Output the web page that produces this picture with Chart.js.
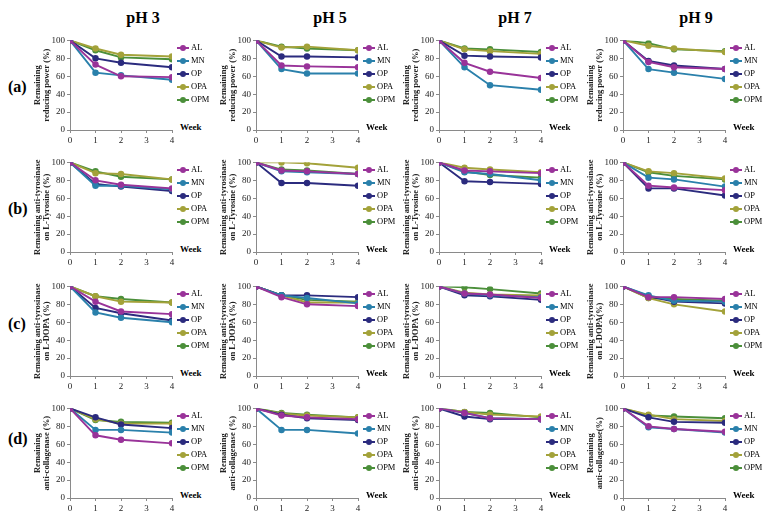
<!DOCTYPE html>
<html>
<head>
<meta charset="utf-8">
<script src="https://cdn.jsdelivr.net/npm/chart.js@4.4.1/dist/chart.umd.min.js"></script>
<style>
  body { margin: 0; background: #fff; font-family: "Liberation Serif", "DejaVu Serif", serif; }
  #page { position: relative; width: 773px; height: 525px; overflow: hidden; }
  .box { position: absolute; }
  .colTitle { position: absolute; font-weight: bold; font-size: 16px; transform: translateX(-50%); }
  .rowLabel { position: absolute; font-weight: bold; font-size: 16px; }
  .week { position: absolute; font-weight: bold; font-size: 9px; }
  .leg { position: absolute; font-size: 8.5px; line-height: 10px; white-space: nowrap; }
  .leg span.mk { display: inline-block; position: relative; width: 12px; height: 2px; vertical-align: middle; margin-right: 2px; }
  .leg span.mk i { position: absolute; left: 3px; top: -2px; width: 6px; height: 6px; border-radius: 50%; background: inherit; }
</style>
</head>
<body>
<div id="page"></div>
<script>
// weeks sampled (no point at week 3)
const weeks = [0, 1, 2, 4];
const seriesNames = ['AL', 'MN', 'OP', 'OPA', 'OPM'];
const seriesColors = ['#993399', '#2a80ab', '#2b2b7e', '#a3a23a', '#4b8f3a'];
const phLabels = ['pH 3', 'pH 5', 'pH 7', 'pH 9'];
const rowLabels = ['(a)', '(b)', '(c)', '(d)'];
const yTicks = [0, 20, 40, 60, 80, 100];

// (a) remaining reducing power, one row per pH 3/5/7/9
const reducing_AL  = [[100, 73, 60, 59], [100, 72, 71, 70], [100, 75, 65, 58], [100, 76, 70, 68]];
const reducing_MN  = [[100, 64, 61, 56], [100, 68, 63, 63], [100, 70, 50, 45], [100, 68, 64, 57]];
const reducing_OP  = [[100, 80, 75, 70], [100, 82, 82, 81], [100, 83, 82, 81], [100, 77, 72, 68]];
const reducing_OPA = [[100, 91, 84, 82], [100, 92, 93, 89], [100, 90, 88, 85], [100, 94, 91, 87]];
const reducing_OPM = [[100, 89, 81, 79], [100, 93, 91, 89], [100, 91, 90, 87], [100, 97, 90, 88]];

// (b) anti-tyrosinase on L-Tyrosine
const tyrosine_AL  = [[100, 80, 75, 71], [100, 91, 90, 87], [100, 91, 90, 88], [100, 74, 72, 69]];
const tyrosine_MN  = [[100, 74, 74, 70], [100, 90, 89, 87], [100, 89, 87, 80], [100, 83, 81, 73]];
const tyrosine_OP  = [[100, 76, 73, 68], [100, 77, 77, 74], [100, 79, 78, 76], [100, 71, 71, 63]];
const tyrosine_OPA = [[100, 88, 87, 81], [100, 100, 99, 94], [100, 94, 92, 89], [100, 90, 88, 82]];
const tyrosine_OPM = [[100, 90, 84, 81], [100, 92, 91, 87], [100, 90, 86, 83], [100, 89, 85, 81]];

// (c) anti-tyrosinase on L-DOPA
const dopa_AL  = [[100, 83, 72, 69], [100, 88, 80, 78], [100, 92, 91, 87], [100, 88, 88, 86]];
const dopa_MN  = [[100, 71, 65, 60], [100, 90, 87, 81], [100, 92, 90, 88], [100, 90, 84, 83]];
const dopa_OP  = [[100, 76, 70, 62], [100, 90, 90, 88], [100, 90, 89, 85], [100, 89, 83, 81]];
const dopa_OPA = [[100, 89, 83, 82], [100, 90, 82, 82], [100, 93, 91, 90], [100, 87, 80, 72]];
const dopa_OPM = [[100, 89, 86, 82], [100, 90, 85, 83], [100, 99, 97, 92], [100, 87, 86, 84]];

// (d) anti-collagenase
const collagen_AL  = [[100, 70, 65, 61], [100, 92, 90, 88], [100, 95, 89, 88], [100, 80, 77, 74]];
const collagen_MN  = [[100, 76, 76, 73], [100, 76, 76, 72], [100, 95, 89, 88], [100, 79, 77, 73]];
const collagen_OP  = [[100, 90, 82, 78], [100, 93, 89, 87], [100, 91, 88, 88], [100, 90, 85, 84]];
const collagen_OPA = [[100, 88, 83, 83], [100, 94, 92, 90], [100, 96, 93, 91], [100, 93, 88, 86]];
const collagen_OPM = [[100, 87, 85, 84], [100, 95, 93, 90], [100, 96, 95, 90], [100, 92, 91, 89]];

const rowData = [
  [reducing_AL, reducing_MN, reducing_OP, reducing_OPA, reducing_OPM],
  [tyrosine_AL, tyrosine_MN, tyrosine_OP, tyrosine_OPA, tyrosine_OPM],
  [dopa_AL, dopa_MN, dopa_OP, dopa_OPA, dopa_OPM],
  [collagen_AL, collagen_MN, collagen_OP, collagen_OPA, collagen_OPM]
];

// y axis titles (pH 9 column drops the space before the bracket)
const yTitles = [
  [['Remaining', 'reducing power (%)'], ['Remaining', 'reducing power (%)'], ['Remaining', 'reducing power (%)'], ['Remaining', 'reducing power (%)']],
  [['Remaining anti-tyrosinase', 'on L-Tyrosine (%)'], ['Remaining anti-tyrosinase', 'on L-Tyrosine (%)'], ['Remaining anti-tyrosinase', 'on L-Tyrosine (%)'], ['Remaining anti-tyrosinase', 'on L-Tyrosine (%)']],
  [['Remaining anti-tyrosinase', 'on L-DOPA (%)'], ['Remaining anti-tyrosinase', 'on L-DOPA (%)'], ['Remaining anti-tyrosinase', 'on L-DOPA (%)'], ['Remaining anti-tyrosinase', 'on L-DOPA(%)']],
  [['Remaining', 'anti-collagenase (%)'], ['Remaining', 'anti-collagenase (%)'], ['Remaining', 'anti-collagenase (%)'], ['Remaining', 'anti-collagenase(%)']]
];

// panel geometry: x of y-axis per column, y of the 100 line per row
const axisX = [70, 256, 439, 623];
const plotW = 102;
const top100 = [39, 161, 285, 407];
const plotH = 91;
const leftW = 37;

const page = document.getElementById('page');

function addDiv(cls, text, left, top) {
  const d = document.createElement('div');
  d.className = cls;
  d.textContent = text;
  d.style.left = left + 'px';
  d.style.top = top + 'px';
  page.appendChild(d);
  return d;
}

const colCenters = [143, 330, 515, 696];
phLabels.forEach((t, i) => addDiv('colTitle', t, colCenters[i], 9));
const rowMid = [78, 200, 315, 430];
rowLabels.forEach((t, i) => addDiv('rowLabel', t, 8, rowMid[i]));

for (let r = 0; r < 4; r++) {
  for (let c = 0; c < 4; c++) {
    const box = document.createElement('div');
    box.className = 'box';
    const w = leftW + plotW + 8;
    const h = 6 + plotH + 18;
    box.style.left = (axisX[c] - leftW) + 'px';
    box.style.top = (top100[r] - 6) + 'px';
    box.style.width = w + 'px';
    box.style.height = h + 'px';
    const cv = document.createElement('canvas');
    box.appendChild(cv);
    page.appendChild(box);

    const datasets = seriesNames.map((name, s) => ({
      label: name,
      data: weeks.map((wk, k) => ({ x: wk, y: rowData[r][s][c][k] })),
      borderColor: seriesColors[s],
      backgroundColor: seriesColors[s],
      borderWidth: 1.9,
      pointRadius: 2.3,
      pointHoverRadius: 2.3,
      tension: 0
    }));

    new Chart(cv, {
      type: 'line',
      data: { datasets: datasets },
      options: {
        responsive: true,
        maintainAspectRatio: false,
        animation: false,
        layout: { padding: { left: 0, right: 8, top: 6, bottom: 0 } },
        plugins: { legend: { display: false }, tooltip: { enabled: false } },
        scales: {
          x: {
            type: 'linear', min: 0, max: 4,
            afterFit: s => { s.height = 18; },
            ticks: { stepSize: 1, color: '#222', font: { family: 'Liberation Serif', size: 9 }, padding: 2 },
            grid: { drawOnChartArea: false, tickLength: 3, color: '#8a8a8a' },
            border: { color: '#8a8a8a' }
          },
          y: {
            min: 0, max: 100,
            afterFit: s => { s.width = leftW; },
            afterBuildTicks: s => { s.ticks = yTicks.map(v => ({ value: v })); },
            ticks: { color: '#222', font: { family: 'Liberation Serif', size: 9 }, padding: 2 },
            grid: { drawOnChartArea: false, tickLength: 3, color: '#8a8a8a' },
            border: { color: '#8a8a8a' },
            title: {
              display: true,
              text: yTitles[r][c],
              color: '#222',
              font: { family: 'Liberation Serif', size: 8.5, weight: 'bold', lineHeight: 1.05 },
              padding: { top: 0, bottom: 0 }
            }
          }
        }
      }
    });

    // Week label at the end of the x axis
    addDiv('week', 'Week', axisX[c] + 110, top100[r] + plotH - 8);

    // legend
    seriesNames.forEach((name, s) => {
      const d = addDiv('leg', '', axisX[c] + 107, top100[r] + 3 + s * 13);
      const mk = document.createElement('span');
      mk.className = 'mk';
      mk.style.background = seriesColors[s];
      mk.appendChild(document.createElement('i'));
      d.appendChild(mk);
      d.appendChild(document.createTextNode(name));
    });
  }
}
</script>
</body>
</html>
